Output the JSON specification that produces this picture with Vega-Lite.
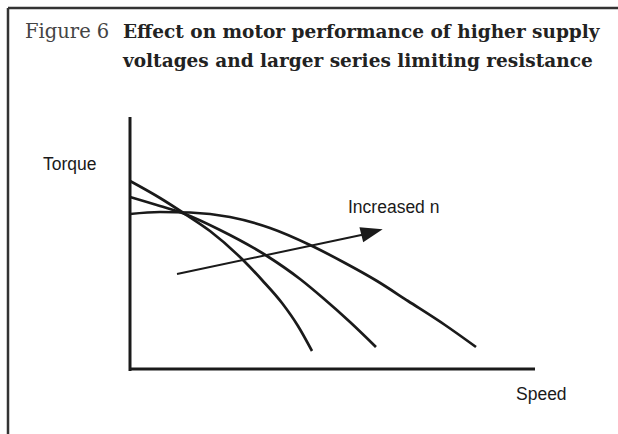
{
  "$schema": "https://vega.github.io/schema/vega-lite/v6.json",
  "width": 405,
  "height": 252,
  "autosize": "none",
  "padding": {"left": 130, "top": 117, "right": 83, "bottom": 65},
  "background": "white",
  "config": {"view": {"stroke": null}},
  "datasets": {
    "curves": [
      {"series": "a", "speed": 0, "torque": 188},
      {"series": "a", "speed": 30, "torque": 171},
      {"series": "a", "speed": 55, "torque": 155},
      {"series": "a", "speed": 80, "torque": 138},
      {"series": "a", "speed": 113, "torque": 109},
      {"series": "a", "speed": 132, "torque": 89},
      {"series": "a", "speed": 152, "torque": 66},
      {"series": "a", "speed": 168, "torque": 43},
      {"series": "a", "speed": 182, "torque": 18},
      {"series": "b", "speed": 0, "torque": 172},
      {"series": "b", "speed": 30, "torque": 163},
      {"series": "b", "speed": 55, "torque": 155},
      {"series": "b", "speed": 90, "torque": 139},
      {"series": "b", "speed": 137, "torque": 113},
      {"series": "b", "speed": 170, "torque": 90},
      {"series": "b", "speed": 193, "torque": 71},
      {"series": "b", "speed": 220, "torque": 47},
      {"series": "b", "speed": 246, "torque": 22},
      {"series": "c", "speed": 0, "torque": 155},
      {"series": "c", "speed": 30, "torque": 157},
      {"series": "c", "speed": 60, "torque": 156.5},
      {"series": "c", "speed": 100, "torque": 152},
      {"series": "c", "speed": 140, "torque": 141},
      {"series": "c", "speed": 180, "torque": 124},
      {"series": "c", "speed": 215, "torque": 106},
      {"series": "c", "speed": 247, "torque": 88},
      {"series": "c", "speed": 278, "torque": 68},
      {"series": "c", "speed": 315, "torque": 44},
      {"series": "c", "speed": 346, "torque": 22}
    ],
    "axes": [
      {"x": 0, "y": 252, "x2": 0, "y2": -2},
      {"x": 0, "y": 0, "x2": 405, "y2": 0}
    ],
    "frame": [
      {"x": -122, "y": 361, "x2": 488, "y2": 361},
      {"x": -122, "y": 361, "x2": -122, "y2": -65}
    ],
    "arrow": [
      {"x": 47, "y": 95, "x2": 236, "y2": 135}
    ],
    "arrowhead": [
      {"x": 242, "y": 137}
    ],
    "labels": [
      {"text": "Torque", "x": -87, "y": 199},
      {"text": "Increased n", "x": 218, "y": 156},
      {"text": "Speed", "x": 386, "y": -31}
    ],
    "title": [
      {"text": "Figure 6", "x": -105, "y": 331, "kind": "fig"},
      {"text": "Effect on motor performance of higher supply", "x": -7, "y": 331, "kind": "main"},
      {"text": "voltages and larger series limiting resistance", "x": -7, "y": 302, "kind": "main"}
    ]
  },
  "layer": [
    {
      "data": {"name": "frame"},
      "mark": {"type": "rule", "stroke": "#333333", "strokeWidth": 2.5},
      "encoding": {
        "x": {"field": "x", "type": "quantitative", "axis": null, "scale": {"domain": [0, 405], "nice": false, "zero": false}},
        "y": {"field": "y", "type": "quantitative", "axis": null, "scale": {"domain": [0, 252], "nice": false, "zero": false}},
        "x2": {"field": "x2"},
        "y2": {"field": "y2"}
      }
    },
    {
      "data": {"name": "axes"},
      "mark": {"type": "rule", "stroke": "#1a1a1a", "strokeWidth": 3},
      "encoding": {
        "x": {"field": "x", "type": "quantitative", "axis": null, "scale": {"domain": [0, 405], "nice": false, "zero": false}},
        "y": {"field": "y", "type": "quantitative", "axis": null, "scale": {"domain": [0, 252], "nice": false, "zero": false}},
        "x2": {"field": "x2"},
        "y2": {"field": "y2"}
      }
    },
    {
      "data": {"name": "curves"},
      "mark": {"type": "line", "stroke": "#1a1a1a", "strokeWidth": 2.7, "interpolate": "monotone", "strokeCap": "butt"},
      "encoding": {
        "x": {"field": "speed", "type": "quantitative", "axis": null, "scale": {"domain": [0, 405], "nice": false, "zero": false}},
        "y": {"field": "torque", "type": "quantitative", "axis": null, "scale": {"domain": [0, 252], "nice": false, "zero": false}},
        "detail": {"field": "series", "type": "nominal"}
      }
    },
    {
      "data": {"name": "arrow"},
      "mark": {"type": "rule", "stroke": "#1a1a1a", "strokeWidth": 2},
      "encoding": {
        "x": {"field": "x", "type": "quantitative", "axis": null, "scale": {"domain": [0, 405], "nice": false, "zero": false}},
        "y": {"field": "y", "type": "quantitative", "axis": null, "scale": {"domain": [0, 252], "nice": false, "zero": false}},
        "x2": {"field": "x2"},
        "y2": {"field": "y2"}
      }
    },
    {
      "data": {"name": "arrowhead"},
      "mark": {"type": "point", "shape": "M1,0L-1,-0.7L-1,0.7Z", "filled": true, "fill": "#1a1a1a", "strokeWidth": 0, "opacity": 1, "size": 484, "angle": 346},
      "encoding": {
        "x": {"field": "x", "type": "quantitative", "axis": null, "scale": {"domain": [0, 405], "nice": false, "zero": false}},
        "y": {"field": "y", "type": "quantitative", "axis": null, "scale": {"domain": [0, 252], "nice": false, "zero": false}}
      }
    },
    {
      "data": {"name": "labels"},
      "mark": {"type": "text", "font": "Liberation Sans", "fontSize": 17.5, "align": "left", "baseline": "alphabetic", "fill": "#1a1a1a"},
      "encoding": {
        "x": {"field": "x", "type": "quantitative", "axis": null, "scale": {"domain": [0, 405], "nice": false, "zero": false}},
        "y": {"field": "y", "type": "quantitative", "axis": null, "scale": {"domain": [0, 252], "nice": false, "zero": false}},
        "text": {"field": "text"}
      }
    },
    {
      "data": {"name": "title"},
      "transform": [{"filter": "datum.kind === 'fig'"}],
      "mark": {"type": "text", "font": "DejaVu Serif", "fontSize": 19.5, "fontWeight": "normal", "align": "left", "baseline": "alphabetic", "fill": "#444444"},
      "encoding": {
        "x": {"field": "x", "type": "quantitative", "axis": null, "scale": {"domain": [0, 405], "nice": false, "zero": false}},
        "y": {"field": "y", "type": "quantitative", "axis": null, "scale": {"domain": [0, 252], "nice": false, "zero": false}},
        "text": {"field": "text"}
      }
    },
    {
      "data": {"name": "title"},
      "transform": [{"filter": "datum.kind === 'main'"}],
      "mark": {"type": "text", "font": "DejaVu Serif", "fontSize": 18.5, "fontWeight": "bold", "align": "left", "baseline": "alphabetic", "fill": "#222222"},
      "encoding": {
        "x": {"field": "x", "type": "quantitative", "axis": null, "scale": {"domain": [0, 405], "nice": false, "zero": false}},
        "y": {"field": "y", "type": "quantitative", "axis": null, "scale": {"domain": [0, 252], "nice": false, "zero": false}},
        "text": {"field": "text"}
      }
    }
  ]
}
